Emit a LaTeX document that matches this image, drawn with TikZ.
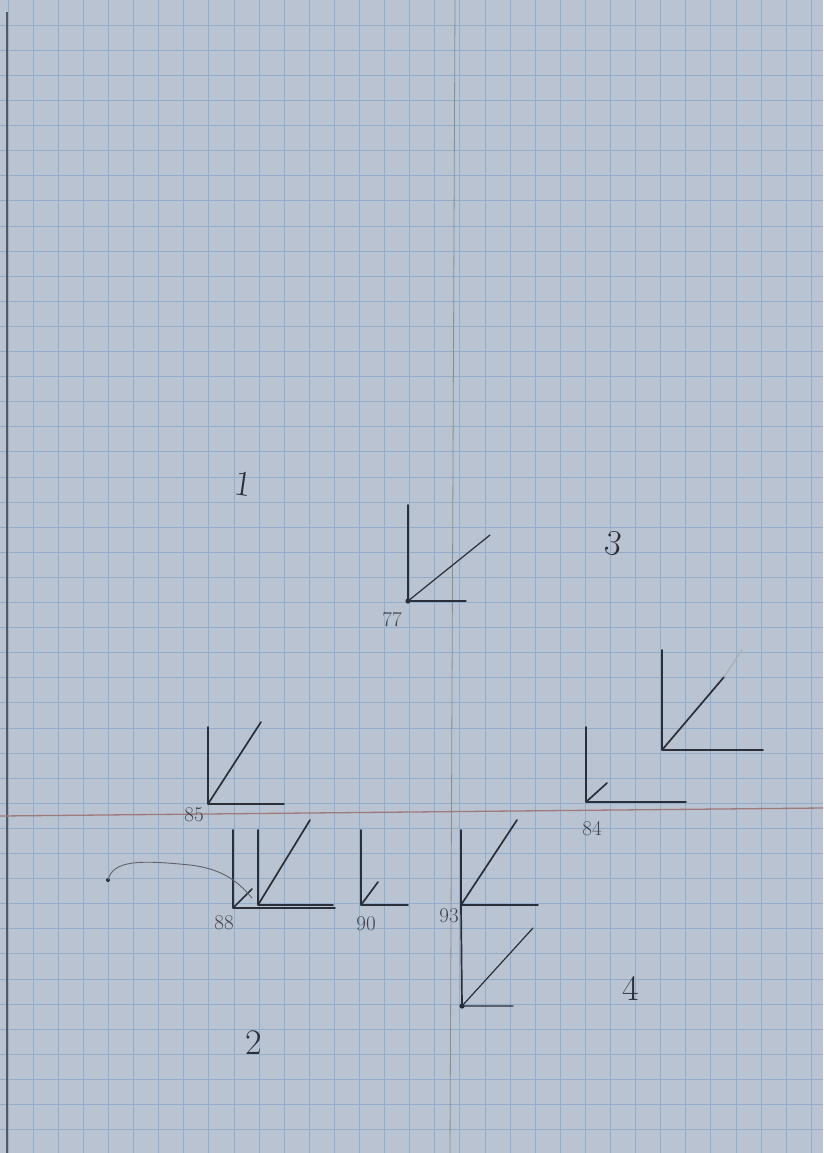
\documentclass[tikz,border=0pt]{standalone}
\usepackage{tikz}
\usetikzlibrary{positioning}
\definecolor{paper}{RGB}{186,195,210}
\definecolor{gridblue}{RGB}{146,172,203}
\definecolor{pencil}{RGB}{42,46,56}
\definecolor{redline}{RGB}{158,122,122}

\begin{document}
\begin{tikzpicture}[x=1pt, y=-1pt,
    pen/.style={draw=pencil, line width=1.7pt, line cap=round},
    thinpen/.style={draw=pencil!75, line width=0.9pt, line cap=round},
    num/.style={font=\fontsize{21}{21}\selectfont, text=pencil!90, inner sep=1pt},
    quad/.style={font=\fontsize{36}{36}\selectfont, text=pencil, inner sep=1pt}]
  \fill[paper] (0,0) rectangle (823,1153);
  \useasboundingbox (0,0) rectangle (823,1153);
  % grid
  \foreach \i in {0,...,32}
    \draw[gridblue, line width=0.8pt] ({8+25.1*\i},0) -- ++(0,1153);
  \foreach \j in {1,...,45}
    \draw[gridblue, line width=0.8pt] (0,{25.1*\j}) -- ++(823,0);
  % axes
  \draw[pencil!80, line width=1.3pt] (7,12) -- (7,1153);
  \draw[pencil!55, line width=0.8pt] (455,0) -- (450,1153);
  \draw[redline, line width=1.3pt] (0,816) -- (823,808);

  % 77
  \coordinate (o77) at (408,601);
  \fill[pencil] (o77) circle (2.6);
  \draw[pen] (o77) -- ++(0,-96);
  \draw[pen, line width=1.2pt] (o77) -- (490,535);
  \draw[pen, line width=1.2pt] (o77) -- ++(58,0);
  \node[num] (l77) at (392,620) {77};

  % 85
  \coordinate (o85) at (208,804);
  \draw[pen] (o85) -- ++(0,-77) (o85) -- (261,722) (o85) -- ++(76,0);
  \node[num] (l85) at (194,815) {85};

  % 88
  \coordinate (o88) at (233,908);
  \coordinate (p88) at (258,905);
  \draw[pen] (o88) -- ++(0,-78) (o88) -- ++(102,0) (o88) -- (252,889);
  \draw[pen] (p88) -- ++(0,-75) (p88) -- (310,820) (p88) -- ++(75,0);
  \coordinate (tail) at (108,880);
  \fill[pencil] (tail) circle (2);
  \draw[thinpen] (tail) .. controls (113,860) and (140,860) .. (190,865)
    .. controls (225,869) and (240,884) .. (252,898);
  \node[num] (l88) at (224,923) {88};

  % 90
  \coordinate (o90) at (361,905);
  \draw[pen] (o90) -- ++(0,-75) (o90) -- ++(47,0) (o90) -- (378,882);
  \node[num] (l90) at (366,924) {90};

  % 93
  \coordinate (o93) at (461,905);
  \coordinate (q93) at (462,1006);
  \fill[pencil] (q93) circle (2.6);
  \draw[pen] (o93) -- ++(0,-75) (o93) -- (517,820) (o93) -- ++(77,0);
  \draw[pen] (o93) -- (q93);
  \draw[pen, line width=1.2pt] (q93) -- ++(51,0) (q93) -- (533,928);
  \node[num] (l93) at (449,916) {93};

  % 84
  \coordinate (o84) at (586,802);
  \draw[pen] (o84) -- ++(0,-75) (o84) -- ++(100,0) (o84) -- (607,783);
  \node[num] (l84) at (592,829) {84};
  \coordinate (p84) at (662,750);
  \draw[pen] (p84) -- ++(0,-100) (p84) -- ++(101,0) (p84) -- (724,677);
  \draw[pen, draw=pencil!40, line width=1pt] (724,677) -- (742,650);

  % quadrant numbers
  \node[quad, rotate=-8] (q1) at (243,484) {1};
  \node[quad, rotate=-10] (q3) at (614,543) {3};
  \node[quad] (q2) at (254,1043) {2};
  \node[quad] (q4) at (631,988) {4};
\end{tikzpicture}
\end{document}
